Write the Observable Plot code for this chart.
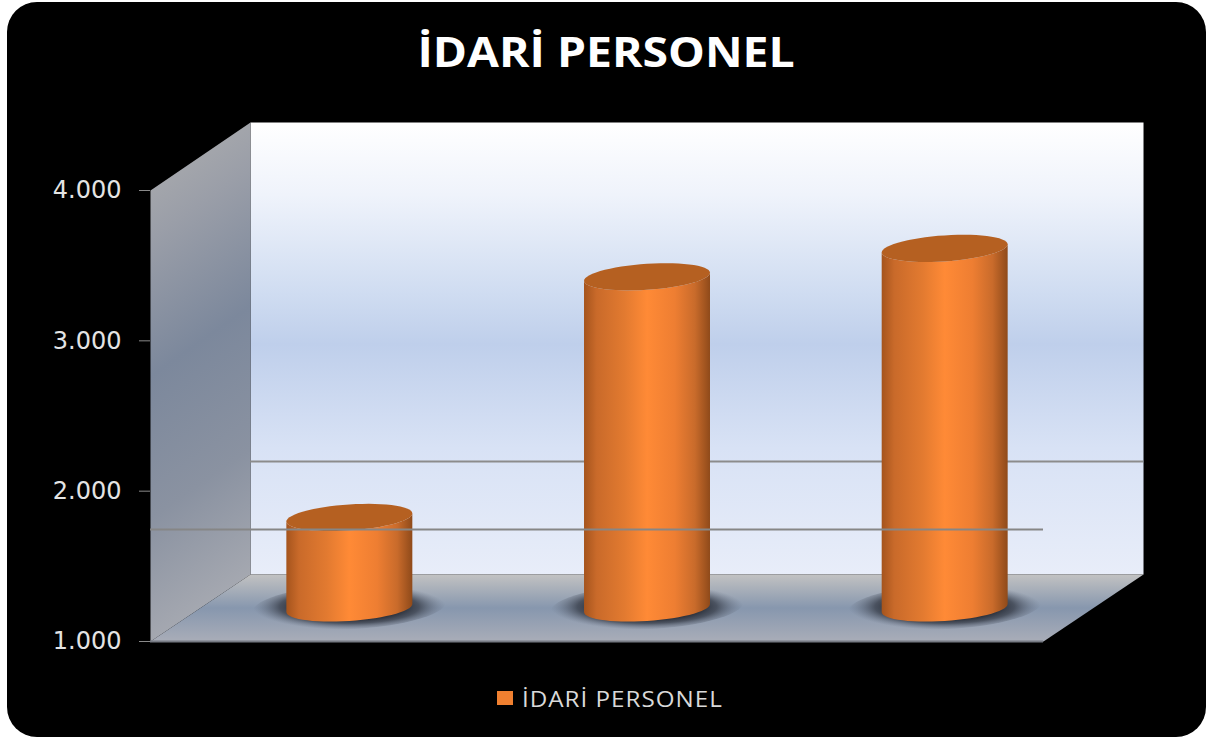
<!DOCTYPE html>
<html lang="tr">
<head>
<meta charset="utf-8">
<script src="https://cdn.jsdelivr.net/npm/d3@7"></script>
<script src="https://cdn.jsdelivr.net/npm/@observablehq/plot@0.6"></script>
<style>
html,body{margin:0;padding:0;background:#fff;width:1206px;height:737px;overflow:hidden}
#card{position:absolute;left:7px;top:2px;width:1199px;height:735px;background:#000;border-radius:30px;overflow:hidden}
#title{height:100px;text-align:center;color:#fff;font:700 42px/98px "Open Sans",sans-serif}
#title span{display:inline-block;transform:scaleX(1.103);transform-origin:center}
#legend{display:flex;align-items:center;box-sizing:border-box;padding-left:490px;height:72px;color:#d9d9d9;font:400 22px "Open Sans",sans-serif;letter-spacing:.9px;gap:9px}
#legend i{display:block;width:16px;height:14px;background:#f08030}
#legend span{display:inline-block;transform:scaleX(1.1);transform-origin:left center}
svg{display:block}
</style>
</head>
<body>
<div id="card">
  <div id="title"><span>İDARİ PERSONEL</span></div>
  <div id="chart"></div>
  <div id="legend"><i></i><span>İDARİ PERSONEL</span></div>
</div>
<script>
const slots = [0, 1, 2];
const values = [1602, 3203, 3392];
const tickValues = [1000, 2000, 3000, 4000];
const tickLabels = ["1.000", "2.000", "3.000", "4.000"];
const gridValue = 1745;

// depth of the box and size of a cylinder, in scale units
const depthX = 0.336, depthY = 446, gridDepthY = 453;
const cylDepthX = 0.5 * depthX, cylDepthY = 0.5 * depthY;
const radX = 0.2116, radY = 86.5, tilt = 27;
const shadowX = 0.325, shadowY = 150, shadowTilt = 32;
const yMin = 1000, yMax = 4000, xMax = 3;
const topBack = yMax + 452;

const wallBack = [[depthX, yMin + depthY], [xMax + depthX, yMin + depthY], [xMax + depthX, topBack], [depthX, topBack]];
const wallSide = [[0, yMin], [depthX, yMin + depthY], [depthX, topBack], [0, yMax]];
const floor = [[0, yMin], [xMax, yMin], [xMax + depthX, yMin + depthY], [depthX, yMin + depthY]];

const angles = d3.range(0, 61).map(i => i * Math.PI / 30);
const lowerArc = angles.filter(t => t >= Math.PI - 1e-6); // left -> right, under the centre
const px = (s) => s + 0.5 + cylDepthX;
const ell = (cx, cy, t, rx = radX, ry = radY, k = tilt) => [cx + rx * Math.cos(t), cy + ry * Math.sin(t) + k * Math.cos(t)];

const body = (s, v) => [
  ...lowerArc.map(t => ell(px(s), yMin + cylDepthY, t)),
  ...lowerArc.slice().reverse().map(t => ell(px(s), v + cylDepthY, t))
];
const topFace = (s, v) => angles.map(t => ell(px(s), v + cylDepthY, t));
const shadow = (s) => angles.map(t => ell(px(s), yMin + cylDepthY + 8, t, shadowX, shadowY, shadowTilt));

const poly = (pts, fill, extra = {}) => Plot.line(pts, {x: d => d[0], y: d => d[1], fill, stroke: "none", ...extra});

const defs = () => d3.create("svg:defs").html(`
  <linearGradient id="gBack" x1="0" y1="0" x2="0" y2="1">
    <stop offset="0" stop-color="#ffffff"/><stop offset=".16" stop-color="#eff3fb"/>
    <stop offset=".38" stop-color="#cfdcf1"/><stop offset=".49" stop-color="#bfcfeb"/>
    <stop offset=".72" stop-color="#d8e2f5"/><stop offset="1" stop-color="#e8edf9"/>
  </linearGradient>
  <linearGradient id="gSide" x1="0" y1="0" x2=".135" y2="1">
    <stop offset="0" stop-color="#b0b0b0"/><stop offset=".22" stop-color="#9a9ea8"/>
    <stop offset=".48" stop-color="#7c889c"/><stop offset=".75" stop-color="#8a92a1"/><stop offset="1" stop-color="#a6a9b1"/>
  </linearGradient>
  <linearGradient id="gFloor" x1="0" y1="0" x2="0" y2="1">
    <stop offset="0" stop-color="#c2c2c2"/><stop offset=".5" stop-color="#8797ae"/><stop offset="1" stop-color="#a9adb8"/>
  </linearGradient>
  <linearGradient id="gCyl" x1="0" y1="0" x2="1" y2="0">
    <stop offset="0" stop-color="#a5541d"/><stop offset=".1" stop-color="#c96a2a"/><stop offset=".32" stop-color="#e27a30"/>
    <stop offset=".5" stop-color="#ff8a36"/><stop offset=".72" stop-color="#ee7e32"/><stop offset=".88" stop-color="#c96b2b"/><stop offset="1" stop-color="#8f4a1a"/>
  </linearGradient>
  <radialGradient id="gShadow" cx=".5" cy=".5" r=".5">
    <stop offset="0" stop-color="#1a1e27"/><stop offset=".5" stop-color="#1f232c"/>
    <stop offset=".72" stop-color="#3a404c" stop-opacity=".8"/><stop offset="1" stop-color="#6a7486" stop-opacity="0"/>
  </radialGradient>
</defs>`).node();

const plot = Plot.plot({
  width: 1199,
  height: 560,
  marginLeft: 143,
  marginRight: 163,
  marginTop: 88,
  marginBottom: 21,
  style: {background: "transparent", overflow: "visible"},
  x: {domain: [0, xMax], axis: null},
  y: {domain: [yMin, yMax], axis: null},
  marks: [
    defs,
    poly(wallBack, "url(#gBack)"),
    poly(wallSide, "url(#gSide)"),
    poly(floor, "url(#gFloor)"),
    Plot.ruleY([yMin], {x1: 0, x2: xMax, stroke: "#777b84", strokeWidth: 2}),
    Plot.ruleY([gridValue + gridDepthY], {x1: depthX, x2: xMax + depthX, stroke: "#8c8c8c", strokeWidth: 2}),
    ...slots.map(s => poly(shadow(s), "url(#gShadow)")),
    ...slots.map(s => poly(body(s, values[s]), "url(#gCyl)")),
    ...slots.map(s => poly(topFace(s, values[s]), "#b56021")),
    Plot.ruleY([gridValue], {x1: 0, x2: xMax, stroke: "#868686", strokeWidth: 2}),
    Plot.axisY({
      ticks: tickValues,
      tickFormat: d => tickLabels[tickValues.indexOf(d)],
      tickSize: 11,
      tickPadding: 18,
      stroke: "#8a8a8a",
      fill: "#e4e4e4",
      fontSize: 24,
      fontFamily: "DejaVu Sans",
      label: null
    })
  ]
});
document.getElementById("chart").append(plot);
</script>
</body>
</html>
